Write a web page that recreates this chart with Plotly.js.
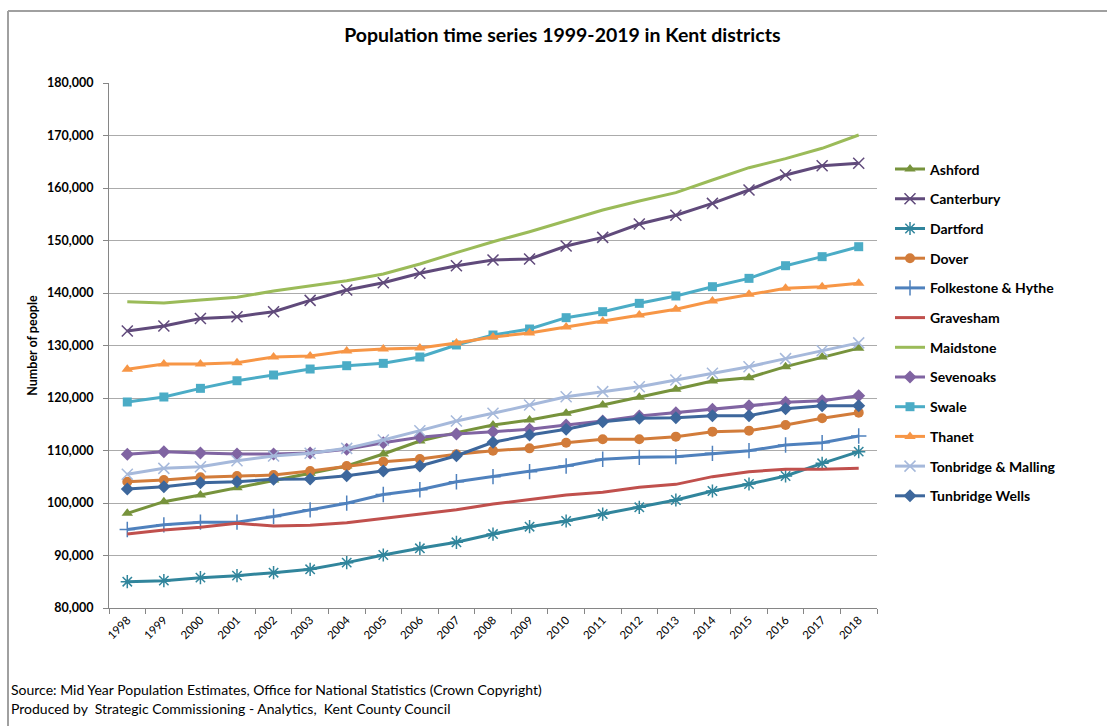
<!DOCTYPE html>
<html>
<head>
<meta charset="utf-8">
<script src="https://cdn.plot.ly/plotly-3.0.1.min.js"></script>
<style>html,body{margin:0;padding:0;background:#fff;}#chart{width:1107px;height:726px;}</style>
</head>
<body>
<div id="chart"></div>
<script>
const years = ["1998","1999","2000","2001","2002","2003","2004","2005","2006","2007","2008","2009","2010","2011","2012","2013","2014","2015","2016","2017","2018"];

const ashford    = [98030,100250,101520,102920,104380,105650,107050,109330,111810,113400,114860,115810,117080,118670,120130,121650,123240,123870,125970,127800,129500];
const canterbury = [132760,133710,135150,135490,136440,138600,140570,141960,143750,145200,146290,146480,148950,150600,153140,154800,157070,159620,162480,164250,164700];
const dartford   = [85010,85210,85780,86160,86730,87370,88640,90100,91370,92510,94090,95490,96570,97900,99180,100570,102290,103620,105140,107560,109780];
const dover      = [104060,104380,104890,105140,105330,106100,107050,107870,108380,109270,109970,110410,111490,112130,112130,112640,113590,113780,114860,116130,117210];
const folkestone = [94950,95840,96350,96350,97430,98700,99970,101620,102510,104060,105020,105970,107050,108320,108700,108830,109460,109970,111050,111490,112760];
const gravesham  = [94090,94860,95370,96130,95620,95750,96260,97090,97900,98700,99810,100700,101520,102030,102980,103550,105020,105970,106410,106410,106600];
const maidstone  = [138340,138100,138670,139180,140380,141330,142340,143620,145520,147680,149770,151680,153780,155810,157520,159110,161520,163870,165590,167560,170100];
const sevenoaks  = [109270,109780,109520,109330,109330,109520,110220,111490,112510,113140,113590,114030,114860,115620,116570,117210,117840,118540,119170,119490,120440];
const swale      = [119240,120190,121840,123290,124380,125520,126150,126600,127810,130100,132000,133140,135300,136440,138030,139430,141200,142790,145200,146920,148820];
const thanet     = [125460,126480,126480,126730,127810,128000,128950,129330,129520,130480,131620,132380,133520,134600,135810,136890,138480,139750,140890,141200,141850];
const tonbridge  = [105460,106600,106920,108060,108950,109460,110410,112000,113780,115620,117080,118670,120250,121210,122160,123430,124700,125970,127500,129000,130500];
const tunbridge  = [102670,103110,103870,104060,104510,104570,105210,106100,107050,109010,111560,112950,114030,115490,116130,116260,116640,116640,117970,118540,118540];

const series = [
  {name:"Ashford", y:ashford, color:"#77933C", symbol:"triangle-up", size:10},
  {name:"Canterbury", y:canterbury, color:"#604A7B", symbol:"x-thin-open", size:11},
  {name:"Dartford", y:dartford, color:"#31859C", symbol:"asterisk-open", size:11},
  {name:"Dover", y:dover, color:"#D27C3A", symbol:"circle", size:10},
  {name:"Folkestone & Hythe", y:folkestone, color:"#4F81BD", symbol:"cross-thin-open", size:11},
  {name:"Gravesham", y:gravesham, color:"#C0504D", symbol:null},
  {name:"Maidstone", y:maidstone, color:"#9BBB59", symbol:null},
  {name:"Sevenoaks", y:sevenoaks, color:"#8064A2", symbol:"diamond", size:10},
  {name:"Swale", y:swale, color:"#4BACC6", symbol:"square", size:9},
  {name:"Thanet", y:thanet, color:"#F79646", symbol:"triangle-up", size:10},
  {name:"Tonbridge & Malling", y:tonbridge, color:"#A6B9DB", symbol:"x-thin-open", size:11},
  {name:"Tunbridge Wells", y:tunbridge, color:"#3D679C", symbol:"diamond", size:10}
];

const traces = series.map((s,i) => {
  const t = {
    type:"scatter", x:years, y:s.y, name:s.name, legendgroup:"g"+i,
    line:{color:s.color, width:3},
    hoverinfo:"x+y+name"
  };
  if (s.symbol) {
    t.mode = "lines+markers";
    const thin = s.symbol.indexOf("thin")>=0 || s.symbol.indexOf("asterisk")>=0;
    t.marker = {symbol:s.symbol, size:s.size, color:s.color,
      line:{color:s.color, width: thin ? 1.5 : 0}};
  } else {
    t.mode = "lines";
  }
  return t;
});

const W = 768, H = 525, L = 109, T = 83;
const px = v => (v - L) / W;
const py = v => (T + H - v) / H;

const font = "Lato, 'Liberation Sans', sans-serif";

const layout = {
  width:1107, height:726,
  margin:{l:109, r:230, t:83, b:118},
  paper_bgcolor:"#fff", plot_bgcolor:"#fff",
  font:{family:font, color:"#000"},
  title:{text:"<b>Population time series 1999-2019 in Kent districts</b>",
    font:{size:19.5, family:font, color:"#000"},
    x:0.508, xref:"container", xanchor:"center", y:1-35/726, yref:"container", yanchor:"middle"},
  xaxis:{type:"category", range:[-0.5,20.5], showgrid:false, showline:true,
    linecolor:"#868686", linewidth:1, ticks:"outside", tickson:"boundaries",
    ticklen:5, tickcolor:"#868686", tickangle:-45,
    tickfont:{size:11.5, family:font, color:"#000"}, zeroline:false, fixedrange:true},
  yaxis:{range:[80000,180000], dtick:10000, tickformat:",d", showgrid:true,
    gridcolor:"#ABABAB", gridwidth:1, showline:true, linecolor:"#868686", linewidth:1,
    ticks:"outside", ticklen:5, tickcolor:"#868686", zeroline:false, ticklabelstandoff:7,
    tickfont:{size:12.5, family:font, color:"#000", weight:"bold"},
    title:{text:"<b>Number of people</b>", font:{size:12.5, family:font, color:"#000"}, standoff:6},
    fixedrange:true},
  legend:{x:px(890), xanchor:"left", y:py(153.5), yanchor:"top", tracegroupgap:8.5,
    font:{size:14, family:font, color:"#000", weight:"bold"}, bgcolor:"rgba(0,0,0,0)", itemwidth:30},
  showlegend:true,
  shapes:[
    {type:"line", xref:"paper", yref:"paper", x0:px(8), x1:px(1110), y0:py(11), y1:py(11), line:{color:"#A0A0A0", width:2}},
    {type:"line", xref:"paper", yref:"paper", x0:px(8), x1:px(8), y0:py(11), y1:py(730), line:{color:"#A0A0A0", width:2}}
  ],
  annotations:[
    {xref:"paper", yref:"paper", x:px(9), y:py(689), xanchor:"left", yanchor:"middle", showarrow:false,
     text:"Source: Mid Year Population Estimates, Office for National Statistics (Crown Copyright)",
     font:{size:14, family:font, color:"#000"}},
    {xref:"paper", yref:"paper", x:px(9), y:py(708), xanchor:"left", yanchor:"middle", showarrow:false,
     text:"Produced by  Strategic Commissioning - Analytics,  Kent County Council",
     font:{size:14, family:font, color:"#000"}}
  ]
};

Plotly.newPlot("chart", traces, layout, {displayModeBar:false, staticPlot:false});
</script>
</body>
</html>
